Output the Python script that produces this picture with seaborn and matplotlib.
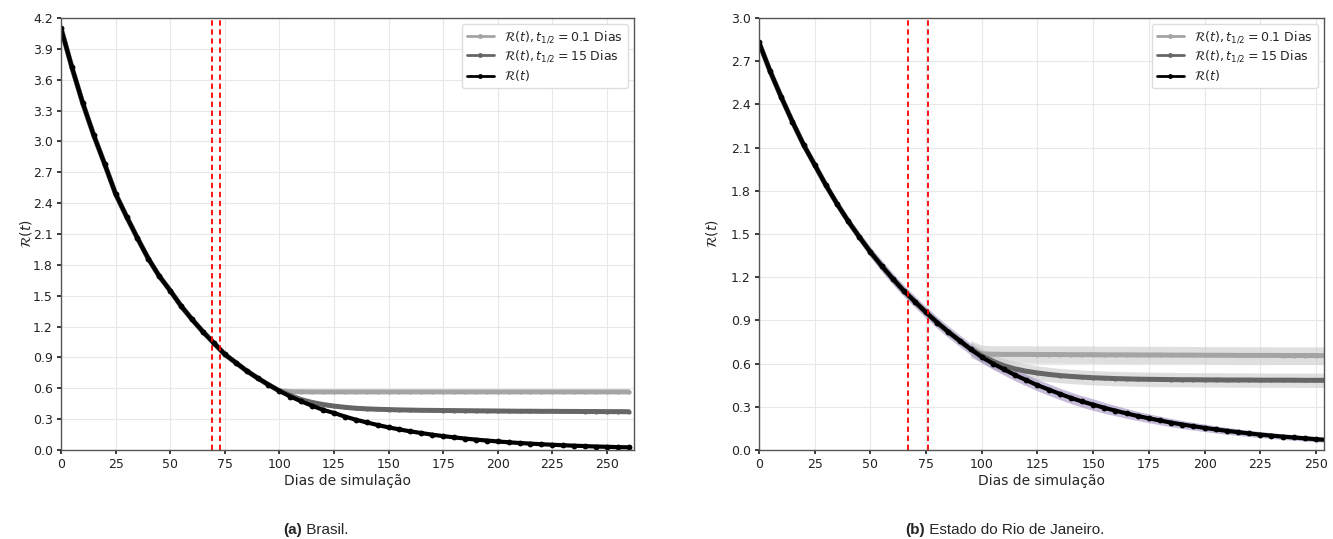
import matplotlib
matplotlib.use("Agg")
import matplotlib.pyplot as plt
import seaborn as sns
import numpy as np

# ---- data ----
# (a) Brasil, sampled every 5 days
dias_br = list(range(0, 265, 5))
r_br = [4.10, 3.72, 3.37, 3.06, 2.78, 2.49, 2.27, 2.06, 1.86, 1.69,
        1.55, 1.40, 1.27, 1.15, 1.04, 0.93, 0.85, 0.77, 0.70, 0.635,
        0.575, 0.52, 0.473, 0.43, 0.39, 0.36, 0.325, 0.295, 0.268, 0.243,
        0.22, 0.20, 0.181, 0.165, 0.149, 0.135, 0.123, 0.111, 0.101, 0.092,
        0.083, 0.075, 0.068, 0.062, 0.056, 0.051, 0.046, 0.042, 0.038, 0.034,
        0.031, 0.028, 0.026]
r01_br_tail = [0.567, 0.566] + [0.565] * 30          # t = 105..260
r15_br_tail = [0.53, 0.49, 0.462, 0.442, 0.427, 0.415, 0.406, 0.40, 0.396, 0.393,
               0.390, 0.388, 0.386, 0.385, 0.384, 0.383, 0.382, 0.381, 0.380, 0.379,
               0.378, 0.377, 0.377, 0.376, 0.376, 0.375, 0.375, 0.374, 0.374, 0.373,
               0.373, 0.372]
r01_br = r_br[:21] + r01_br_tail
r15_br = r_br[:21] + r15_br_tail
marcos_br = [69, 73]

# (b) Estado do Rio de Janeiro
dias_rj = list(range(0, 260, 5))
r_rj = [2.83, 2.63, 2.45, 2.28, 2.12, 1.98, 1.84, 1.71, 1.59, 1.48,
        1.375, 1.28, 1.19, 1.105, 1.03, 0.955, 0.885, 0.82, 0.76, 0.70,
        0.645, 0.60, 0.56, 0.52, 0.485, 0.45, 0.42, 0.39, 0.362, 0.337,
        0.315, 0.293, 0.273, 0.254, 0.236, 0.22, 0.205, 0.19, 0.177, 0.165,
        0.154, 0.143, 0.133, 0.124, 0.115, 0.107, 0.10, 0.093, 0.087, 0.081,
        0.075, 0.070]
r_rj_spread = ([0.0, 0.004, 0.008, 0.012, 0.016, 0.02, 0.024, 0.027, 0.03, 0.033, 0.036]
               + [0.04] * 20
               + [0.038, 0.036, 0.034, 0.032, 0.031, 0.03, 0.029, 0.028, 0.027, 0.026,
                  0.025, 0.024, 0.023, 0.022, 0.021, 0.02, 0.02, 0.019, 0.019, 0.018, 0.018])
r01_rj_tail = [0.668, 0.665, 0.664, 0.664, 0.664, 0.663, 0.663, 0.663, 0.662, 0.662,
               0.662, 0.661, 0.661, 0.661, 0.660, 0.660, 0.660, 0.659, 0.659, 0.659,
               0.658, 0.658, 0.658, 0.657, 0.657, 0.657, 0.657, 0.656, 0.656, 0.656,
               0.656, 0.655]                          # t = 100..255
r15_rj_tail = [0.655, 0.615, 0.585, 0.563, 0.547, 0.535, 0.525, 0.517, 0.511, 0.506,
               0.502, 0.499, 0.496, 0.494, 0.492, 0.491, 0.490, 0.489, 0.488, 0.488,
               0.487, 0.487, 0.486, 0.486, 0.486, 0.485, 0.485, 0.485, 0.485, 0.484,
               0.484, 0.484]
r01_rj = r_rj[:20] + r01_rj_tail
r15_rj = r_rj[:20] + r15_rj_tail
marcos_rj = [67, 76]

# band half widths
banda_br = {"r": 0.01, "r01": 0.015, "r15": 0.012}
banda_rj = {"r01": 0.06, "r15": 0.05}

lbl01 = r"$\mathcal{R}(t), t_{1/2} = 0.1$ Dias"
lbl15 = r"$\mathcal{R}(t), t_{1/2} = 15$ Dias"
lblr = r"$\mathcal{R}(t)$"

c_light = "#a4a4a4"
c_dark = "#666666"
c_band = "#c6c6c6"
c_purple = "#9a85bd"

sns.set_theme(style="whitegrid", rc={
    "axes.edgecolor": "#555555",
    "axes.linewidth": 1.0,
    "grid.color": "#e8e8e8",
    "grid.linewidth": 0.8,
    "xtick.bottom": True,
    "ytick.left": True,
    "xtick.color": "#222222",
    "ytick.color": "#222222",
    "xtick.major.size": 3,
    "ytick.major.size": 3,
    "xtick.labelsize": 9,
    "ytick.labelsize": 9,
    "axes.labelsize": 10,
    "legend.fontsize": 9,
})
plt.rcParams["font.family"] = ["DejaVu Sans"]

fig = plt.figure(figsize=(13.33, 5.39), dpi=100)
W, H = 1333, 539
ax1 = fig.add_axes([61 / W, 1 - 450 / H, (634 - 61) / W, (450 - 18) / H])
ax2 = fig.add_axes([759 / W, 1 - 450 / H, (1324 - 759) / W, (450 - 18) / H])


def painel(ax, dias, r, r01, r15, k, b_r, b01, b15, marcos, xmax, ymax, ylab_x):
    d = np.array(dias)
    r = np.array(r)
    r01 = np.array(r01)
    r15 = np.array(r15)
    b_r = np.broadcast_to(np.array(b_r, dtype=float), r.shape)
    # shaded bands
    ax.fill_between(d[k:], r01[k:] - b01, r01[k:] + b01, color=c_band, alpha=0.55, lw=0)
    ax.fill_between(d[k:], r15[k:] - b15, r15[k:] + b15, color=c_band, alpha=0.55, lw=0)
    ax.fill_between(d, r - b_r, r + b_r, color=c_purple, alpha=0.55, lw=0)
    sns.lineplot(x=d, y=r01, ax=ax, color=c_light, lw=3.6, marker="o", markersize=3,
                 markeredgewidth=0, label=lbl01)
    sns.lineplot(x=d, y=r15, ax=ax, color=c_dark, lw=3.6, marker="o", markersize=3,
                 markeredgewidth=0, label=lbl15)
    sns.lineplot(x=d, y=r, ax=ax, color="black", lw=3.0, marker="o", markersize=4.2,
                 markeredgewidth=0, label=lblr)
    for m in marcos:
        ax.axvline(m, color="red", ls="--", lw=1.3, dashes=(3, 2))
    ax.set_xlim(0, xmax)
    ax.set_ylim(0, ymax)
    ax.set_xticks(np.arange(0, 251, 25))
    ax.set_yticks(np.arange(0, ymax + 0.01, 0.3))
    ax.yaxis.set_major_formatter(matplotlib.ticker.FormatStrFormatter("%.1f"))
    ax.set_xlabel("Dias de simulação", labelpad=2)
    ax.set_ylabel(lblr)
    ax.yaxis.set_label_coords(ylab_x, 0.5)
    ax.tick_params(pad=3)
    leg = ax.legend(loc="upper right", frameon=True, fancybox=True, framealpha=1,
                    edgecolor="#dddddd", handlelength=2.2, borderpad=0.4, labelspacing=0.3)
    for h in leg.get_lines():
        h.set_linewidth(2.0)
        h.set_markersize(3.5)
    for s in ax.spines.values():
        s.set_visible(True)


painel(ax1, dias_br, r_br, r01_br, r15_br, 20, banda_br["r"], banda_br["r01"],
       banda_br["r15"], marcos_br, 262.4, 4.2, -0.047)
painel(ax2, dias_rj, r_rj, r01_rj, r15_rj, 19, r_rj_spread, banda_rj["r01"],
       banda_rj["r15"], marcos_rj, 253.6, 3.0, -0.069)

# captions
fig.canvas.draw()
rend = fig.canvas.get_renderer()
for x0, tag, txt in [(283, "(a)", " Brasil."), (905, "(b)", " Estado do Rio de Janeiro.")]:
    t = fig.text(x0 / W, 9 / H, tag, fontweight="bold", fontsize=11,
                 family="Liberation Sans", va="center", ha="left")
    bb = t.get_window_extent(rend)
    xf = fig.transFigure.inverted().transform((bb.x1, 0))[0]
    fig.text(xf, 9 / H, txt, fontsize=11, family="Liberation Sans", va="center", ha="left")

fig.savefig("out.png", dpi=100)
